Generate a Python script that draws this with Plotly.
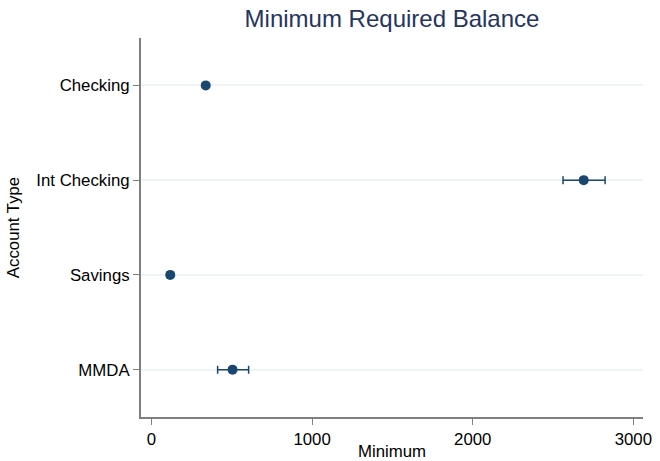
import plotly.graph_objects as go

categories = ["MMDA", "Savings", "Int Checking", "Checking"]
means = [505, 117, 2691, 338]
err_plus = [100, 5, 133, 8]
err_minus = [93, 5, 129, 8]

navy = "#1a476f"
axis_col = "#7f7f7f"
fs = 16.8

fig = go.Figure()
fig.add_trace(go.Scatter(
    x=means, y=categories, mode="markers",
    marker=dict(color=navy, size=10),
    error_x=dict(type="data", symmetric=False, array=err_plus, arrayminus=err_minus,
                 color=navy, thickness=1.5, width=4),
    showlegend=False,
))

fig.update_layout(
    width=660, height=461,
    margin=dict(l=141, r=17, t=38, b=44),
    paper_bgcolor="white", plot_bgcolor="white",
    font=dict(family="Liberation Sans, Arial, sans-serif", size=fs, color="black"),
    title=dict(text="Minimum Required Balance", x=0.5, xref="paper", xanchor="center",
               y=1 - 18.5 / 461, yref="container", yanchor="middle",
               font=dict(size=24, color="#25355f")),
    xaxis=dict(range=[-65, 3060], tickvals=[0, 1000, 2000, 3000], showgrid=False,
               zeroline=False, showline=True, linecolor=axis_col, linewidth=2,
               ticks="outside", ticklen=6, tickcolor=axis_col, tickwidth=1,
               automargin=False,
               title=dict(text="Minimum", font=dict(size=fs)),
               tickfont=dict(size=fs)),
    yaxis=dict(type="category", categoryorder="array", categoryarray=categories,
               range=[-0.5, 3.5], showgrid=True, gridcolor="#eef3f6", gridwidth=1.5,
               zeroline=False, showline=True, linecolor=axis_col, linewidth=2,
               ticks="outside", ticklen=6, tickcolor=axis_col, tickwidth=1,
               automargin=False,
               title=dict(text="Account Type", standoff=12, font=dict(size=fs)),
               tickfont=dict(size=fs)),
)

fig.write_html("out.html")
